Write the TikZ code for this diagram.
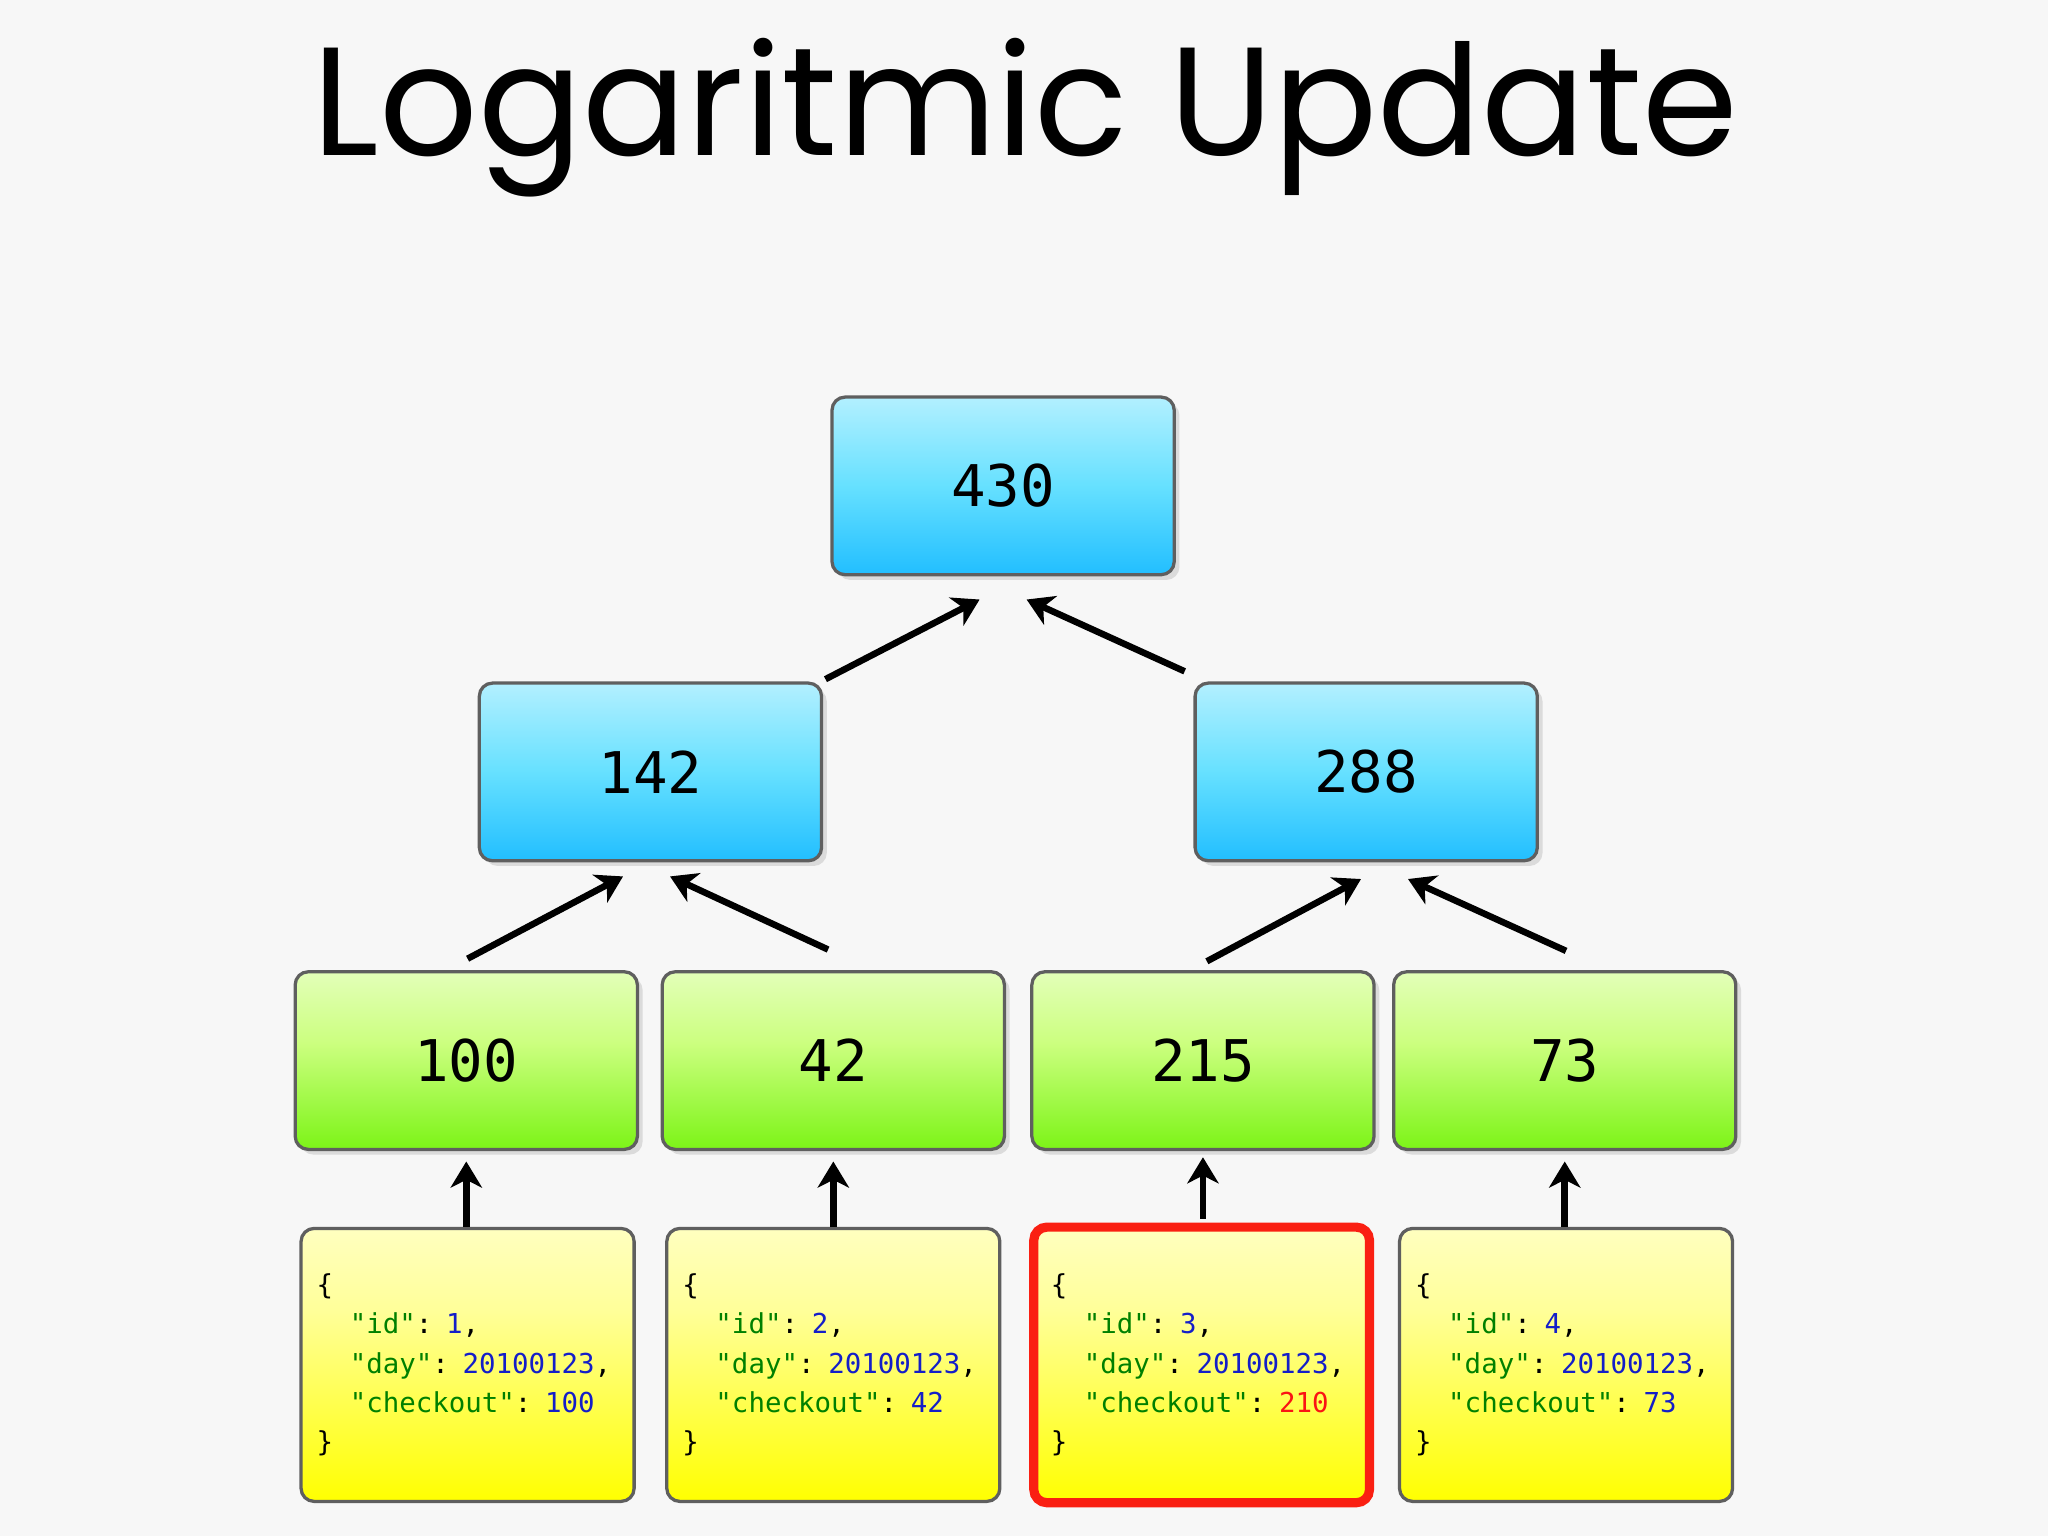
\documentclass[tikz,border=0pt]{standalone}
\usepackage{fontspec}
\newfontfamily\titlefont{Poppins}
\newfontfamily\monof{DejaVu Sans Mono}
\usetikzlibrary{arrows.meta}
\definecolor{jgreen}{RGB}{0,128,0}
\definecolor{jblue}{RGB}{20,30,200}
\definecolor{jred}{RGB}{250,20,20}
\definecolor{bordergray}{RGB}{95,95,95}
\pgfdeclareverticalshading{blueS}{100bp}{color(0bp)=(white); color(8bp)=(blue!8!cyan!30!white); color(22bp)=(blue!30!cyan!90!white); color(50bp)=(blue!20!cyan!60!white); color(100bp)=(white)}
\pgfdeclareverticalshading{greenS}{100bp}{color(0bp)=(white); color(8bp)=(green!30!yellow!40!white); color(22bp)=(green!55!yellow!95!black!95); color(55bp)=(green!40!yellow!50!white); color(100bp)=(white)}
\pgfdeclareverticalshading{yellowS}{100bp}{color(0bp)=(white); color(8bp)=(yellow!40!white); color(25bp)=(yellow); color(60bp)=(yellow!40!white); color(100bp)=(white)}
\tikzset{
  x=1pt,y=-1pt,
  numbox/.style={draw=bordergray,line width=2.5pt,rounded corners=10pt,minimum width=262pt,minimum height=136pt,font=\monof\fontsize{44}{50}\selectfont,inner sep=0pt},
  bluebox/.style={numbox,shading=blueS},
  greenbox/.style={numbox,shading=greenS},
  codebox/.style={draw=bordergray,line width=2.5pt,rounded corners=10pt,shading=yellowS,minimum width=255pt,minimum height=209pt,text width=231pt,align=left,inner xsep=12pt,font=\monof\fontsize{21}{30}\selectfont},
  shad/.style={fill=black!12,draw=none,rounded corners=10pt},
  arr/.style={line width=5pt,-{Stealth[length=20pt,width=24pt,inset=6pt]}}
}
\newcommand{\K}[1]{\textcolor{jgreen}{#1}}
\newcommand{\V}[1]{\textcolor{jblue}{#1}}
\newcommand{\ind}{\phantom{xx}}
\begin{document}
\begin{tikzpicture}
\useasboundingbox (0,0) rectangle (1568,1176);
\fill[white!97!black] (0,0) rectangle (1568,1176);
\node[font=\titlefont\fontsize{118}{130}\selectfont] (title) at (785,90) {Logaritmic Update};
% shadows
\foreach \cx/\cy in {768/372,498/591,1046/591,357/812,638/812,921/812,1198/812}{
  \fill[black!14,rounded corners=10pt] (\cx-127,\cy-64) rectangle (\cx+135,\cy+72);}
\node[bluebox] (n430) at (768,372) {430};
\node[bluebox] (n142) at (498,591) {142};
\node[bluebox] (n288) at (1046,591) {288};
\node[greenbox] (n100) at (357,812) {100};
\node[greenbox] (n42) at (638,812) {42};
\node[greenbox] (n215) at (921,812) {215};
\node[greenbox] (n73) at (1198,812) {73};
\node[codebox] (d1) at (358,1045) {\{\\\ind\K{"id"}: \V{1},\\\ind\K{"day"}: \V{20100123},\\\ind\K{"checkout"}: \V{100}\\\}};
\node[codebox] (d2) at (638,1045) {\{\\\ind\K{"id"}: \V{2},\\\ind\K{"day"}: \V{20100123},\\\ind\K{"checkout"}: \V{42}\\\}};
\node[codebox,draw=jred!90!orange,line width=7pt,minimum width=257pt,minimum height=211pt] (d3) at (920,1045) {\{\\\ind\K{"id"}: \V{3},\\\ind\K{"day"}: \V{20100123},\\\ind\K{"checkout"}: \textcolor{jred}{210}\\\}};
\node[codebox] (d4) at (1199,1045) {\{\\\ind\K{"id"}: \V{4},\\\ind\K{"day"}: \V{20100123},\\\ind\K{"checkout"}: \V{73}\\\}};
% arrow endpoints
\coordinate (a1s) at (632,520); \coordinate (a1e) at (750,459);
\coordinate (a2s) at (907,514); \coordinate (a2e) at (786,459);
\coordinate (b1s) at (358,734); \coordinate (b1e) at (477,671);
\coordinate (b2s) at (634,727); \coordinate (b2e) at (513,671);
\coordinate (b3s) at (924,736); \coordinate (b3e) at (1042,673);
\coordinate (b4s) at (1199,728); \coordinate (b4e) at (1078,673);
\draw[arr] (a1s) -- (a1e);
\draw[arr] (a2s) -- (a2e);
\draw[arr] (b1s) -- (b1e);
\draw[arr] (b2s) -- (b2e);
\draw[arr] (b3s) -- (b3e);
\draw[arr] (b4s) -- (b4e);
\draw[arr] (d1.north -| n100) -- ++(0,-50);
\draw[arr] (d2.north -| n42) -- ++(0,-50);
\draw[arr] (d3.north -| n215) ++(0,-3) -- ++(0,-47);
\draw[arr] (d4.north -| n73) -- ++(0,-50);
\end{tikzpicture}
\end{document}
